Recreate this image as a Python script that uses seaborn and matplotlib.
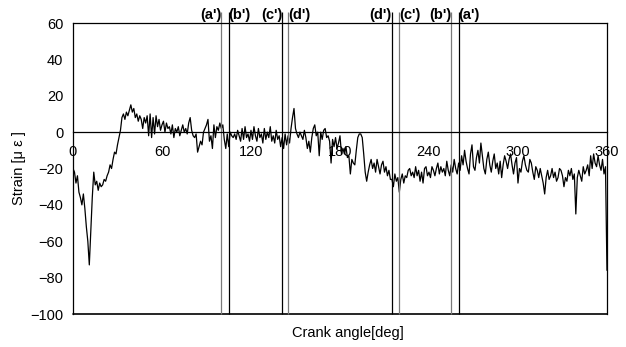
import numpy as np
import matplotlib
matplotlib.use("Agg")
import matplotlib.pyplot as plt
import seaborn as sns

# strain readings, one per degree of crank angle (0..360)
strain = [
    -20, -22, -28, -24, -33, -36, -40, -34, -42, -52, -60, -73, -55, -36, -22, -29, -27, -32, -28, -30,
    -29, -26, -27, -24, -22, -18, -20, -15, -11, -12, -7, -3, 1, 8, 10, 7, 11, 9, 12, 15,
    11, 13, 8, 10, 6, 9, 7, 2, 8, 5, 9, -2, 10, -3, 8, -1, 9, 3, 7, 1,
    4, 6, 0, 5, 2, 3, -1, 4, -3, 2, 0, 3, -2, 1, 4, 0, 2, -1, 5, 8,
    1, -2, -3, -1, -11, -8, -5, -7, 0, 2, 4, 7, -5, -2, -9, 4, -3, 3, 1, 5,
    2, 4, -4, -9, -1, -8, 0, -2, -3, -1, -4, 1, -2, -5, 2, -4, 3, -3, -1, -5,
    1, -4, 3, -2, -5, 2, -3, -1, -6, 2, -4, 0, -3, 3, -5, -2, -6, 1, -4, -2,
    -8, -3, -9, -1, -7, -2, -6, 2, 8, 13, 2, -1, -3, 0, -2, -4, 1, -3, -9, -5,
    -11, -3, 2, 4, -2, 0, -13, 0, -4, 1, 2, -3, -2, -5, -17, -4, -8, -3, -9, -6,
    -2, -12, -9, -12, -8, -14, -13, -23, -15, -17, -18, -10, -3, -1, -1, -3, -12, -22, -27, -22,
    -18, -15, -20, -17, -22, -15, -19, -23, -18, -16, -22, -19, -24, -21, -26, -26, -30, -23, -27, -25,
    -33, -26, -23, -28, -24, -25, -21, -20, -24, -22, -25, -19, -24, -21, -27, -22, -28, -20, -19, -24,
    -22, -25, -19, -21, -24, -20, -17, -23, -19, -22, -20, -24, -16, -21, -24, -18, -22, -15, -20, -23,
    -17, -21, -13, -18, -10, -16, -20, -23, -12, -7, -19, -21, -14, -10, -17, -6, -13, -20, -23, -15,
    -11, -18, -22, -16, -12, -20, -17, -23, -16, -25, -18, -13, -16, -20, -15, -12, -18, -23, -17, -14,
    -28, -20, -22, -16, -13, -18, -21, -22, -15, -17, -22, -26, -19, -21, -25, -20, -24, -28, -34, -25,
    -21, -26, -24, -20, -25, -22, -27, -25, -20, -21, -24, -30, -25, -27, -21, -24, -20, -26, -23, -45,
    -25, -21, -24, -27, -19, -23, -21, -18, -24, -13, -20, -12, -17, -19, -13, -18, -21, -15, -23, -19,
    -76,
]
crank_angle = np.arange(len(strain))

# marker lines at top
marker_angles = [100, 105, 141, 145, 215, 220, 255, 260]
marker_labels = ["(a')", "(b')", "(c')", "(d')", "(d')", "(c')", "(b')", "(a')"]
marker_colors = ["#7a7a7a", "black", "black", "#7a7a7a", "black", "#7a7a7a", "#7a7a7a", "black"]
marker_ha = ["right", "left", "right", "left", "right", "left", "right", "left"]

x_ticks = [0, 60, 120, 180, 240, 300, 360]
y_ticks = [-100, -80, -60, -40, -20, 0, 20, 40, 60]

sns.set_style("white")
plt.rcParams['font.family'] = ['Liberation Sans', 'DejaVu Sans']
plt.rcParams['text.color'] = 'black'
plt.rcParams['axes.labelcolor'] = 'black'

fig = plt.figure(figsize=(6.26, 3.47), dpi=100)
ax = fig.add_axes([0.1166, 0.0951, 0.853, 0.8386])

sns.lineplot(x=crank_angle, y=strain, color="black", lw=0.9, ax=ax)

ax.set_xlim(0, 360)
ax.set_ylim(-100, 60)
ax.set_xticks(x_ticks)
ax.set_yticks(y_ticks)

# x axis sits on the zero line, box closed at the bottom
for s in ax.spines.values():
    s.set_color("black")
    s.set_linewidth(0.9)
ax.spines['bottom'].set_position(('data', 0))
ax.axhline(-100, color="black", lw=1.2, clip_on=False)

ax.tick_params(axis='x', direction='in', length=4, width=0.8, pad=9, labelsize=10.5, colors="black")
ax.tick_params(axis='y', length=0, pad=7, labelsize=10.5, colors="black")

for a, lab, c, ha in zip(marker_angles, marker_labels, marker_colors, marker_ha):
    ax.vlines(a, -100, 66, color=c, lw=0.9, clip_on=False)
    ax.text(a, 60.3, lab, ha=ha, va='bottom', fontsize=10.5, fontweight='bold',
            color='black', clip_on=False)

ax.set_xlabel("Crank angle[deg]", fontsize=10.5)
ax.set_ylabel("Strain [μ ε ]", fontsize=10.5)
ax.xaxis.set_label_coords(0.515, -0.04)
ax.yaxis.set_label_coords(-0.088, 0.5)

fig.savefig("out.png", dpi=100)
